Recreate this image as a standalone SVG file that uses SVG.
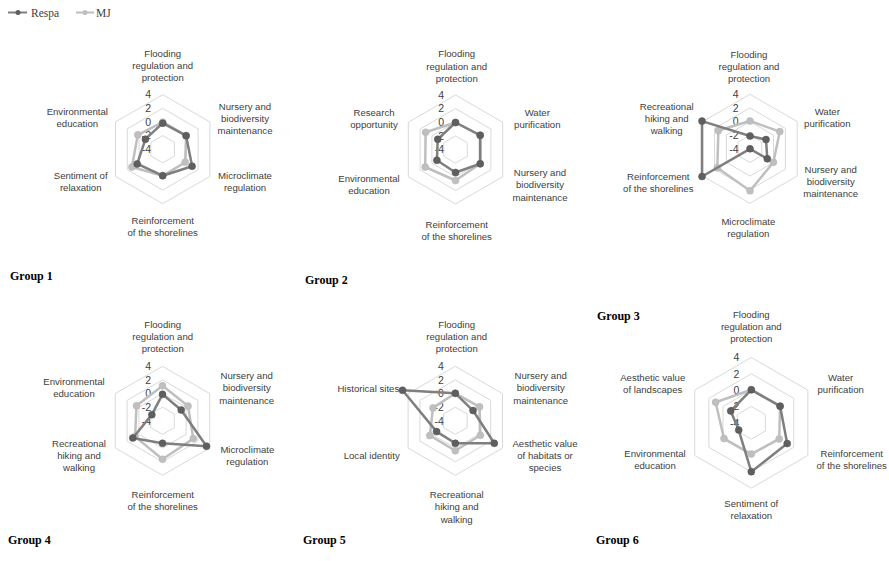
<svg xmlns="http://www.w3.org/2000/svg" xmlns:xlink="http://www.w3.org/1999/xlink" width="889" height="561" viewBox="0 0 889 561">
<defs>
<style>
.grid{fill:none;stroke:#d9d9d9;stroke-width:1}
.tick{font-family:"Liberation Sans",Arial,sans-serif;font-size:10.5px;fill:#404040;text-anchor:end}
.cat{font-family:"Liberation Sans",Arial,sans-serif;font-size:9.6px;fill:#404040;text-anchor:middle}
.title{font-family:"Liberation Serif","Times New Roman",serif;font-size:12px;font-weight:bold;fill:#000}
.leg{font-family:"Liberation Serif","Times New Roman",serif;font-size:11.5px;fill:#404040}
.sR{fill:none;stroke:#7f7f7f;stroke-width:2.5;stroke-linejoin:round}
.sM{fill:none;stroke:#bfbfbf;stroke-width:2.5;stroke-linejoin:round}
.dR{fill:#5f5f5f;stroke:#555;stroke-width:0.5}
.dM{fill:#bfbfbf;stroke:#b5b5b5;stroke-width:0.5}
</style>
<g id="rings">
<polygon class="grid" points="0,-54.5 47.2,-27.25 47.2,27.25 0,54.5 -47.2,27.25 -47.2,-27.25"/>
<polygon class="grid" points="0,-40.9 35.4,-20.4 35.4,20.4 0,40.9 -35.4,20.4 -35.4,-20.4"/>
<polygon class="grid" points="0,-27.25 23.6,-13.6 23.6,13.6 0,27.25 -23.6,13.6 -23.6,-13.6"/>
<polygon class="grid" points="0,-13.6 11.8,-6.8 11.8,6.8 0,13.6 -11.8,6.8 -11.8,-6.8"/>
</g>
<g id="ticks">
<text class="tick" x="-11.5" y="-50.8">4</text>
<text class="tick" x="-11.5" y="-37.2">2</text>
<text class="tick" x="-11.5" y="-23.55">0</text>
<text class="tick" x="-11.5" y="-9.9">-2</text>
<text class="tick" x="-11.5" y="3.7">-4</text>
</g>
</defs>

<g id="legend">
<line x1="8" y1="12.5" x2="27" y2="12.5" stroke="#7f7f7f" stroke-width="2"/>
<circle cx="18" cy="12.5" r="2.5" fill="#5f5f5f"/>
<text class="leg" x="31" y="16.5">Respa</text>
<line x1="76" y1="12.5" x2="94" y2="12.5" stroke="#bfbfbf" stroke-width="2"/>
<circle cx="85" cy="12.5" r="2.5" fill="#bfbfbf"/>
<text class="leg" x="96" y="16.5">MJ</text>
</g>

<!-- Group 1 -->
<g id="group1">
<g transform="translate(162.7,149.2)">
<use xlink:href="#rings"/>
<use xlink:href="#ticks"/>
<g id="g1-mj"><polygon class="sM" points="0,-27 23.4,-13.5 22.5,13 0,26.5 -30.8,17.8 -24.9,-14.4"/>
<circle class="dM" cx="0" cy="-27" r="3.5"/><circle class="dM" cx="23.4" cy="-13.5" r="3.5"/><circle class="dM" cx="22.5" cy="13" r="3.5"/><circle class="dM" cx="0" cy="26.5" r="3.5"/><circle class="dM" cx="-30.8" cy="17.8" r="3.5"/><circle class="dM" cx="-24.9" cy="-14.4" r="3.5"/></g>
<g id="g1-respa"><polygon class="sR" points="0,-26 23.4,-13.5 29.4,17 0,26.5 -25.5,14.7 -17.3,-10"/>
<circle class="dR" cx="0" cy="-26" r="3.5"/><circle class="dR" cx="23.4" cy="-13.5" r="3.5"/><circle class="dR" cx="29.4" cy="17" r="3.5"/><circle class="dR" cx="0" cy="26.5" r="3.5"/><circle class="dR" cx="-25.5" cy="14.7" r="3.5"/><circle class="dR" cx="-17.3" cy="-10" r="3.5"/></g>
</g>
<text class="cat" x="162.7" y="56.8">Flooding<tspan x="162.7" dy="12.2">regulation and</tspan><tspan x="162.7" dy="12.2">protection</tspan></text>
<text class="cat" x="245" y="109.5">Nursery and<tspan x="245" dy="12.2">biodiversity</tspan><tspan x="245" dy="12.2">maintenance</tspan></text>
<text class="cat" x="245" y="179.2">Microclimate<tspan x="245" dy="12.2">regulation</tspan></text>
<text class="cat" x="162.7" y="224.2">Reinforcement<tspan x="162.7" dy="12.2">of the shorelines</tspan></text>
<text class="cat" x="80.7" y="179.2">Sentiment of<tspan x="80.7" dy="12.2">relaxation</tspan></text>
<text class="cat" x="77.3" y="115.2">Environmental<tspan x="77.3" dy="12.2">education</tspan></text>
<text class="title" x="10" y="280">Group 1</text>
</g>

<!-- Group 2 -->
<g id="group2">
<g transform="translate(455.5,149.5)">
<use xlink:href="#rings"/>
<use xlink:href="#ticks"/>
<g id="g2-mj"><polygon class="sM" points="0,-27 24.7,-14.25 24.7,14.25 0,31 -30.3,17.5 -29.9,-17.25"/>
<circle class="dM" cx="0" cy="-27" r="3.5"/><circle class="dM" cx="24.7" cy="-14.25" r="3.5"/><circle class="dM" cx="24.7" cy="14.25" r="3.5"/><circle class="dM" cx="0" cy="31" r="3.5"/><circle class="dM" cx="-30.3" cy="17.5" r="3.5"/><circle class="dM" cx="-29.9" cy="-17.25" r="3.5"/></g>
<g id="g2-respa"><polygon class="sR" points="0,-27 24.7,-14.25 24.7,14.25 0,23 -18.6,10.75 -17.75,-10.25"/>
<circle class="dR" cx="0" cy="-27" r="3.5"/><circle class="dR" cx="24.7" cy="-14.25" r="3.5"/><circle class="dR" cx="24.7" cy="14.25" r="3.5"/><circle class="dR" cx="0" cy="23" r="3.5"/><circle class="dR" cx="-18.6" cy="10.75" r="3.5"/><circle class="dR" cx="-17.75" cy="-10.25" r="3.5"/></g>
</g>
<text class="cat" x="456.7" y="57.3">Flooding<tspan x="456.7" dy="12.2">regulation and</tspan><tspan x="456.7" dy="12.2">protection</tspan></text>
<text class="cat" x="537.3" y="116.2">Water<tspan x="537.3" dy="12.2">purification</tspan></text>
<text class="cat" x="540" y="176.2">Nursery and<tspan x="540" dy="12.2">biodiversity</tspan><tspan x="540" dy="12.2">maintenance</tspan></text>
<text class="cat" x="456.7" y="227.8">Reinforcement<tspan x="456.7" dy="12.2">of the shorelines</tspan></text>
<text class="cat" x="369" y="181.8">Environmental<tspan x="369" dy="12.2">education</tspan></text>
<text class="cat" x="374" y="116.2">Research<tspan x="374" dy="12.2">opportunity</tspan></text>
<text class="title" x="305" y="283.5">Group 2</text>
</g>

<!-- Group 3 -->
<g id="group3">
<g transform="translate(750,148.8)">
<use xlink:href="#rings"/>
<use xlink:href="#ticks"/>
<g id="g3-mj"><polygon class="sM" points="0,-27.8 29.8,-17.2 23.4,13.5 0,42 -32.7,18.9 -31.6,-18.25"/>
<circle class="dM" cx="0" cy="-27.8" r="3.5"/><circle class="dM" cx="29.8" cy="-17.2" r="3.5"/><circle class="dM" cx="23.4" cy="13.5" r="3.5"/><circle class="dM" cx="0" cy="42" r="3.5"/><circle class="dM" cx="-32.7" cy="18.9" r="3.5"/><circle class="dM" cx="-31.6" cy="-18.25" r="3.5"/></g>
<g id="g3-respa"><polygon class="sR" points="0,-12.8 16,-9.25 17.3,10 0,0 -48,27.7 -48,-27.7"/>
<circle class="dR" cx="0" cy="-12.8" r="3.5"/><circle class="dR" cx="16" cy="-9.25" r="3.5"/><circle class="dR" cx="17.3" cy="10" r="3.5"/><circle class="dR" cx="0" cy="0" r="3.5"/><circle class="dR" cx="-48" cy="27.7" r="3.5"/><circle class="dR" cx="-48" cy="-27.7" r="3.5"/></g>
</g>
<text class="cat" x="749" y="57.5">Flooding<tspan x="749" dy="12.2">regulation and</tspan><tspan x="749" dy="12.2">protection</tspan></text>
<text class="cat" x="827.3" y="115.2">Water<tspan x="827.3" dy="12.2">purification</tspan></text>
<text class="cat" x="830.7" y="172.8">Nursery and<tspan x="830.7" dy="12.2">biodiversity</tspan><tspan x="830.7" dy="12.2">maintenance</tspan></text>
<text class="cat" x="748.3" y="225.2">Microclimate<tspan x="748.3" dy="12.2">regulation</tspan></text>
<text class="cat" x="658.3" y="179.5">Reinforcement<tspan x="658.3" dy="12.2">of the shorelines</tspan></text>
<text class="cat" x="666.7" y="109.5">Recreational<tspan x="666.7" dy="12.2">hiking and</tspan><tspan x="666.7" dy="12.2">walking</tspan></text>
<text class="title" x="597" y="320">Group 3</text>
</g>

<!-- Group 4 -->
<g id="group4">
<g transform="translate(162.5,420.8)">
<use xlink:href="#rings"/>
<use xlink:href="#ticks"/>
<g id="g4-mj"><polygon class="sM" points="0,-35 25.5,-14.75 30.8,17.8 0,38.5 -27.4,15.8 -26,-15"/>
<circle class="dM" cx="0" cy="-35" r="3.5"/><circle class="dM" cx="25.5" cy="-14.75" r="3.5"/><circle class="dM" cx="30.8" cy="17.8" r="3.5"/><circle class="dM" cx="0" cy="38.5" r="3.5"/><circle class="dM" cx="-27.4" cy="15.8" r="3.5"/><circle class="dM" cx="-26" cy="-15" r="3.5"/></g>
<g id="g4-respa"><polygon class="sR" points="0,-26.5 18.7,-10.8 44,25.4 0,22.5 -29.7,17.15 -10.65,-6.15"/>
<circle class="dR" cx="0" cy="-26.5" r="3.5"/><circle class="dR" cx="18.7" cy="-10.8" r="3.5"/><circle class="dR" cx="44" cy="25.4" r="3.5"/><circle class="dR" cx="0" cy="22.5" r="3.5"/><circle class="dR" cx="-29.7" cy="17.15" r="3.5"/><circle class="dR" cx="-10.65" cy="-6.15" r="3.5"/></g>
</g>
<text class="cat" x="162.7" y="327.5">Flooding<tspan x="162.7" dy="12.2">regulation and</tspan><tspan x="162.7" dy="12.2">protection</tspan></text>
<text class="cat" x="246.7" y="379.2">Nursery and<tspan x="246.7" dy="12.2">biodiversity</tspan><tspan x="246.7" dy="12.2">maintenance</tspan></text>
<text class="cat" x="247.3" y="452.5">Microclimate<tspan x="247.3" dy="12.2">regulation</tspan></text>
<text class="cat" x="162.7" y="497.5">Reinforcement<tspan x="162.7" dy="12.2">of the shorelines</tspan></text>
<text class="cat" x="79" y="446.8">Recreational<tspan x="79" dy="12.2">hiking and</tspan><tspan x="79" dy="12.2">walking</tspan></text>
<text class="cat" x="74" y="385.2">Environmental<tspan x="74" dy="12.2">education</tspan></text>
<text class="title" x="8" y="543.5">Group 4</text>
</g>

<!-- Group 5 -->
<g id="group5">
<g transform="translate(455.3,420.8)">
<use xlink:href="#rings"/>
<use xlink:href="#ticks"/>
<g id="g5-mj"><polygon class="sM" points="0,-27.5 24.25,-14 25.1,14.5 0,30 -25.5,14.75 -22.3,-12.9"/>
<circle class="dM" cx="0" cy="-27.5" r="3.5"/><circle class="dM" cx="24.25" cy="-14" r="3.5"/><circle class="dM" cx="25.1" cy="14.5" r="3.5"/><circle class="dM" cx="0" cy="30" r="3.5"/><circle class="dM" cx="-25.5" cy="14.75" r="3.5"/><circle class="dM" cx="-22.3" cy="-12.9" r="3.5"/></g>
<g id="g5-respa"><polygon class="sR" points="0,-27.5 17.75,-10.25 39,22.5 0,22.5 -18.7,10.8 -52.8,-30.5"/>
<circle class="dR" cx="0" cy="-27.5" r="3.5"/><circle class="dR" cx="17.75" cy="-10.25" r="3.5"/><circle class="dR" cx="39" cy="22.5" r="3.5"/><circle class="dR" cx="0" cy="22.5" r="3.5"/><circle class="dR" cx="-18.7" cy="10.8" r="3.5"/><circle class="dR" cx="-52.8" cy="-30.5" r="3.5"/></g>
</g>
<text class="cat" x="456.7" y="327.5">Flooding<tspan x="456.7" dy="12.2">regulation and</tspan><tspan x="456.7" dy="12.2">protection</tspan></text>
<text class="cat" x="540.7" y="379.2">Nursery and<tspan x="540.7" dy="12.2">biodiversity</tspan><tspan x="540.7" dy="12.2">maintenance</tspan></text>
<text class="cat" x="545" y="446.8">Aesthetic value<tspan x="545" dy="12.2">of habitats or</tspan><tspan x="545" dy="12.2">species</tspan></text>
<text class="cat" x="456.7" y="497.8">Recreational<tspan x="456.7" dy="12.6">hiking and</tspan><tspan x="456.7" dy="12.6">walking</tspan></text>
<text class="cat" x="371.7" y="458.5">Local identity</text>
<text class="cat" x="368.3" y="391.8">Historical sites</text>
<text class="title" x="303" y="543.5">Group 5</text>
</g>

<!-- Group 6 -->
<g id="group6">
<g transform="translate(751.3,422.8)">
<polygon class="grid" points="0,-65.3 56.55,-32.65 56.55,32.65 0,65.3 -56.55,32.65 -56.55,-32.65"/>
<polygon class="grid" points="0,-49 42.4,-24.5 42.4,24.5 0,49 -42.4,24.5 -42.4,-24.5"/>
<polygon class="grid" points="0,-32.65 28.3,-16.3 28.3,16.3 0,32.65 -28.3,16.3 -28.3,-16.3"/>
<polygon class="grid" points="0,-16.3 14.1,-8.2 14.1,8.2 0,16.3 -14.1,8.2 -14.1,-8.2"/>
<text class="tick" x="-12" y="-61.6">4</text>
<text class="tick" x="-12" y="-45.3">2</text>
<text class="tick" x="-12" y="-28.95">0</text>
<text class="tick" x="-12" y="-12.6">-2</text>
<text class="tick" x="-12" y="3.7">-4</text>
<g id="g6-mj"><polygon class="sM" points="0,-33 28.8,-16.65 27.9,16.1 0,31.2 -27.3,15.75 -35.7,-20.6"/>
<circle class="dM" cx="0" cy="-33" r="3.5"/><circle class="dM" cx="28.8" cy="-16.65" r="3.5"/><circle class="dM" cx="27.9" cy="16.1" r="3.5"/><circle class="dM" cx="0" cy="31.2" r="3.5"/><circle class="dM" cx="-27.3" cy="15.75" r="3.5"/><circle class="dM" cx="-35.7" cy="-20.6" r="3.5"/></g>
<g id="g6-respa"><polygon class="sR" points="0,-33 28.8,-16.65 35.9,20.75 0,48.9 -12.6,7.25 -20.6,-11.9"/>
<circle class="dR" cx="0" cy="-33" r="3.5"/><circle class="dR" cx="28.8" cy="-16.65" r="3.5"/><circle class="dR" cx="35.9" cy="20.75" r="3.5"/><circle class="dR" cx="0" cy="48.9" r="3.5"/><circle class="dR" cx="-12.6" cy="7.25" r="3.5"/><circle class="dR" cx="-20.6" cy="-11.9" r="3.5"/></g>
</g>
<text class="cat" x="751.3" y="317.5">Flooding<tspan x="751.3" dy="12.4">regulation and</tspan><tspan x="751.3" dy="12.4">protection</tspan></text>
<text class="cat" x="840.7" y="380.8">Water<tspan x="840.7" dy="12.2">purification</tspan></text>
<text class="cat" x="851.7" y="456.8">Reinforcement<tspan x="851.7" dy="12.2">of the shorelines</tspan></text>
<text class="cat" x="751.3" y="506.8">Sentiment of<tspan x="751.3" dy="12.6">relaxation</tspan></text>
<text class="cat" x="655" y="456.8">Environmental<tspan x="655" dy="12.2">education</tspan></text>
<text class="cat" x="652.7" y="380.8">Aesthetic value<tspan x="652.7" dy="12.6">of landscapes</tspan></text>
<text class="title" x="596" y="543.5">Group 6</text>
</g>
</svg>
